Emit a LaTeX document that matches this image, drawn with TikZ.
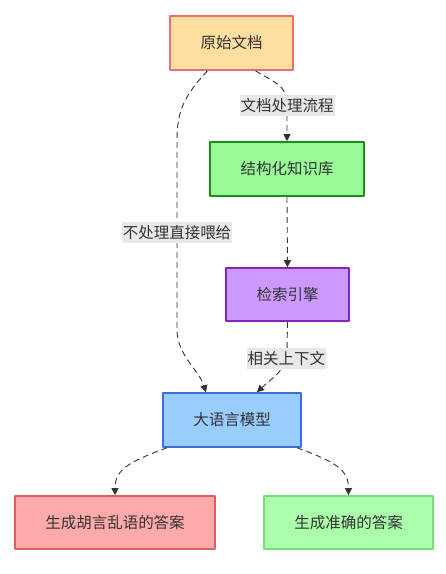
\documentclass[tikz,border=0pt]{standalone}
\usepackage{fontspec}
\usepackage{xcolor}
\setmainfont{Noto Sans CJK SC}
\definecolor{txtgray}{RGB}{51,51,51}
\definecolor{lblgray}{RGB}{232,232,232}
\definecolor{docfill}{RGB}{255,222,160}
\definecolor{docdraw}{RGB}{232,112,112}
\definecolor{kbfill}{RGB}{152,251,152}
\definecolor{kbdraw}{RGB}{30,140,30}
\definecolor{searchfill}{RGB}{204,153,255}
\definecolor{searchdraw}{RGB}{136,34,190}
\definecolor{llmfill}{RGB}{153,204,255}
\definecolor{llmdraw}{RGB}{60,110,220}
\definecolor{badfill}{RGB}{255,170,170}
\definecolor{baddraw}{RGB}{222,96,96}
\definecolor{goodfill}{RGB}{170,255,170}
\definecolor{gooddraw}{RGB}{120,222,120}
\usetikzlibrary{arrows.meta, shapes, positioning}

\begin{document}
\begin{tikzpicture}[
                line join=round,
                font=\fontsize{15.5}{18}\selectfont,
                box/.style={shape=rectangle, line width=1.6pt, minimum height=54pt, text=txtgray},
                flow/.style={draw=txtgray, line width=0.9pt, dash pattern=on 6pt off 4pt, -{Triangle[length=7pt,width=7pt]}},
                edgelabel/.style={fill=lblgray, text=txtgray, inner xsep=1pt, inner ysep=0pt, minimum height=21pt}
            ]
                \useasboundingbox[fill=white] (0pt, 0pt) rectangle (446pt, -574pt);

                % Nodes
                \node[box, fill=docfill, draw=docdraw, minimum width=123pt] (doc) at (231.5pt, -43pt) {原始文档};
                \node[box, fill=kbfill, draw=kbdraw, minimum width=154pt] (kb) at (287pt, -169pt) {结构化知识库};
                \node[box, fill=searchfill, draw=searchdraw, minimum width=123pt, minimum height=53pt] (search) at (287.5pt, -294.5pt) {检索引擎};
                \node[box, fill=llmfill, draw=llmdraw, minimum width=138pt] (llm) at (232pt, -420pt) {大语言模型};
                \node[box, fill=badfill, draw=baddraw, minimum width=200pt, minimum height=53pt] (bad) at (115pt, -522.5pt) {生成胡言乱语的答案};
                \node[box, fill=goodfill, draw=gooddraw, minimum width=169pt, minimum height=53pt] (good) at (348.5pt, -522.5pt) {生成准确的答案};

                % Bends
                \coordinate (kbbend) at (287pt, -98pt);
                \coordinate (leftbend1) at (177pt, -140pt);
                \coordinate (leftbend2) at (177pt, -330pt);
                \coordinate (ctxbend) at (287pt, -352pt);

                % Edges
                \draw[flow] ([xshift=24pt]doc.south) .. controls (282pt, -86pt) .. (kbbend) -- node[edgelabel, pos=0.18] {文档处理流程} (kb.north);
                \draw[flow] ([xshift=-24pt]doc.south) .. controls (185pt, -95pt) and (177pt, -110pt) .. (leftbend1) -- node[edgelabel, pos=0.485] {不处理直接喂给} (leftbend2) .. controls (177pt, -355pt) and (199pt, -370pt) .. ([xshift=-26pt]llm.north);
                \draw[flow] (kb.south) -- (search.north);
                \draw[flow] (search.south) -- (ctxbend) .. controls (287pt, -370pt) and (272pt, -378pt) .. node[edgelabel, pos=0.12] {相关上下文} ([xshift=25pt]llm.north);
                \draw[flow] ([xshift=-65pt]llm.south) .. controls +(-38pt, -14pt) and +(0pt, 26pt) .. (bad.north);
                \draw[flow] ([xshift=65pt]llm.south) .. controls +(38pt, -14pt) and +(0pt, 26pt) .. (good.north);
            \end{tikzpicture}
\end{document}
